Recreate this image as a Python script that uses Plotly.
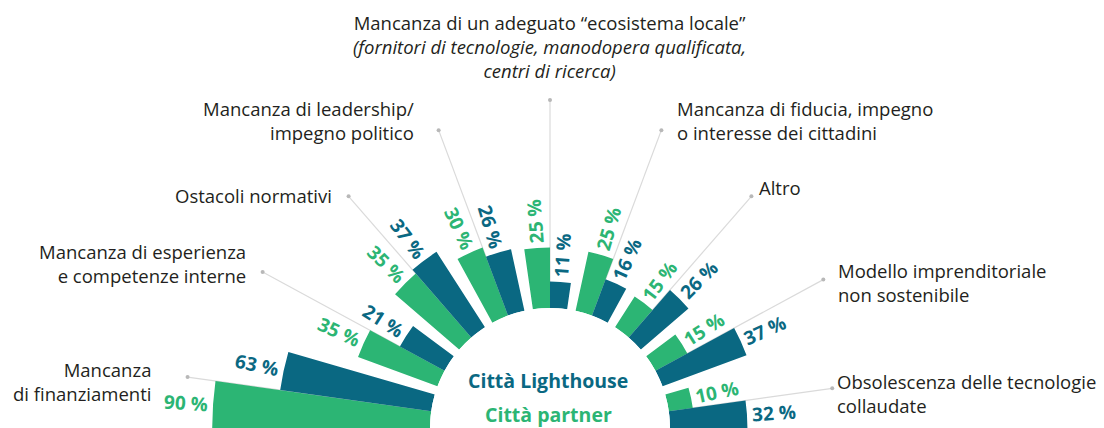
import math
import plotly.graph_objects as go

# ---------------- data ----------------
categories = [
    "Mancanza di finanziamenti",
    "Mancanza di esperienza e competenze interne",
    "Ostacoli normativi",
    "Mancanza di leadership/impegno politico",
    "Mancanza di un adeguato “ecosistema locale”",
    "Mancanza di fiducia, impegno o interesse dei cittadini",
    "Altro",
    "Modello imprenditoriale non sostenibile",
    "Obsolescenza delle tecnologie collaudate",
]
label_texts = [
    "Mancanza<br>di finanziamenti",
    "Mancanza di esperienza<br>e competenze interne",
    "Ostacoli normativi",
    "Mancanza di leadership/<br>impegno politico",
    "Mancanza di un adeguato “ecosistema locale”<br><i>(fornitori di tecnologie, manodopera qualificata,</i><br><i>centri di ricerca)</i>",
    "Mancanza di fiducia, impegno<br>o interesse dei cittadini",
    "Altro",
    "Modello imprenditoriale<br>non sostenibile",
    "Obsolescenza delle tecnologie<br>collaudate",
]
partner = [90, 35, 35, 30, 25, 25, 15, 15, 10]       # Città partner (green)
lighthouse = [63, 21, 37, 26, 11, 16, 26, 37, 32]    # Città Lighthouse (blue)
series_names = ["Città partner", "Città Lighthouse"]

# ---------------- layout / style ----------------
W, H = 1104, 428
CX, CY = 550, 428
HOLE_PX = 120
PX_PER = 2.42
RMAX = 110
R_PX = HOLE_PX + PX_PER * RMAX
START = 172.0
STEP = 20.5
HALF = 4.1
BAR_W = 8.2
GREEN = "#2cb574"
BLUE = "#0a6882"
TXT = "#231f20"
FONT = "Open Sans"

# label layout: (xanchor, x px, y px, align)
label_pos = [
    ("right", 153, 381, "right"),
    ("right", 248, 263, "right"),
    ("right", 334, 196, "right"),
    ("right", 416, 120, "right"),
    ("center", 549, 47, "center"),
    ("left", 675, 121, "left"),
    ("left", 757, 188, "left"),
    ("left", 836, 282, "left"),
    ("left", 835, 393, "left"),
]
dot_px = [366, 327, 307, 318, 328, 318, 307, 311, 285]

cat_angles = [START - STEP * i for i in range(len(categories))]
green_angles = [a + HALF for a in cat_angles]
blue_angles = [a - HALF for a in cat_angles]

dom_x = [(CX - R_PX) / W, (CX + R_PX) / W]
dom_y = [0, R_PX / H]

fig = go.Figure()

# leader lines (bottom subplot)
for i, a in enumerate(cat_angles):
    rdot = (dot_px[i] - HOLE_PX) / PX_PER
    fig.add_trace(go.Scatterpolar(
        r=[0, rdot], theta=[a, a], mode="lines",
        line=dict(color="#dadada", width=1.2),
        hoverinfo="skip", showlegend=False, subplot="polar"))
fig.add_trace(go.Scatterpolar(
    r=[(d - HOLE_PX) / PX_PER for d in dot_px], theta=cat_angles, mode="markers",
    marker=dict(color="#b8b8b8", size=4), hoverinfo="skip",
    showlegend=False, subplot="polar"))

# bars (top subplot)
fig.add_trace(go.Barpolar(
    r=partner, theta=green_angles, width=[BAR_W] * len(partner),
    marker=dict(color=GREEN, line=dict(width=0)), name=series_names[0],
    text=categories, subplot="polar2"))
fig.add_trace(go.Barpolar(
    r=lighthouse, theta=blue_angles, width=[BAR_W] * len(lighthouse),
    marker=dict(color=BLUE, line=dict(width=0)), name=series_names[1],
    text=categories, subplot="polar2"))

polar_common = dict(
    domain=dict(x=dom_x, y=dom_y),
    sector=[0, 180],
    hole=HOLE_PX / R_PX,
    bgcolor="rgba(0,0,0,0)",
    radialaxis=dict(visible=False, range=[0, RMAX]),
    angularaxis=dict(visible=False, rotation=0, direction="counterclockwise",
                     thetaunit="degrees"),
)

annotations = []


def px_to_paper(x, y):
    return x / W, 1 - y / H


# value labels
OFFSET = 27
for vals, angs, col in ((partner, green_angles, GREEN), (lighthouse, blue_angles, BLUE)):
    for v, a in zip(vals, angs):
        rp = HOLE_PX + PX_PER * v + OFFSET
        x = CX + rp * math.cos(math.radians(a))
        y = CY - rp * math.sin(math.radians(a))
        th = 180 - a
        rot = th if th < 80 else th - 180
        px, py = px_to_paper(x, y)
        annotations.append(dict(
            x=px, y=py, xref="paper", yref="paper", text=f"{v} %",
            showarrow=False, xanchor="center", yanchor="middle",
            textangle=rot,
            font=dict(family=FONT, size=19, color=col, weight="bold")))

# category labels
for txt, (xa, x, y, al) in zip(label_texts, label_pos):
    px, py = px_to_paper(x, y)
    annotations.append(dict(
        x=px, y=py, xref="paper", yref="paper", text=txt, showarrow=False,
        xanchor=xa, yanchor="middle", align=al,
        font=dict(family=FONT, size=18.5, color=TXT)))

# centre legend texts
for txt, y, col in ((series_names[1], 380, BLUE), (series_names[0], 414, GREEN)):
    px, py = px_to_paper(548, y)
    annotations.append(dict(
        x=px, y=py, xref="paper", yref="paper", text=txt, showarrow=False,
        xanchor="center", yanchor="middle",
        font=dict(family=FONT, size=19.5, color=col, weight="bold")))

fig.update_layout(
    width=W, height=H,
    margin=dict(l=0, r=0, t=0, b=0),
    paper_bgcolor="white", plot_bgcolor="white",
    showlegend=False,
    polar=polar_common,
    polar2=polar_common,
    annotations=annotations,
)

fig.write_html("out.html", config={"displayModeBar": False},
               post_script="document.body.style.margin='0';document.body.style.overflow='hidden';")
